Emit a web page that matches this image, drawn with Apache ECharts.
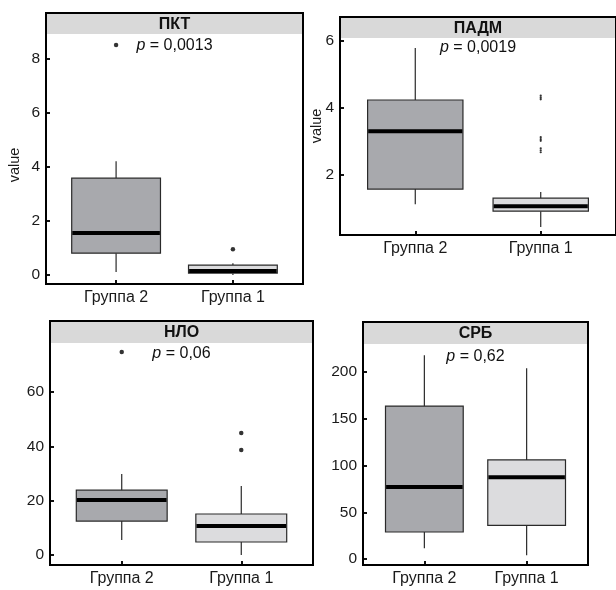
<!DOCTYPE html>
<html>
<head>
<meta charset="utf-8" />
<title>Boxplots</title>
<script src="https://cdn.jsdelivr.net/npm/echarts@6/dist/echarts.min.js"></script>
<style>
  *{ margin:0; padding:0; }
  html,body{ width:616px; height:590px; background:#fff; }
</style>
</head>
<body>
<div id="main" style="width:616px;height:590px;"></div>
<script>
// data: [min, q1, median, q3, max] per group, outliers as [groupIndex, value]
const categories = ['Группа 2', 'Группа 1'];

const pktStats = [[0.11, 0.81, 1.56, 3.59, 4.22], [0.0, 0.07, 0.15, 0.37, 0.44]];
const pktOutliers = [[0, 8.52], [1, 0.96]];
const pktTicks = [0, 2, 4, 6, 8];

const padmStats = [[1.13, 1.58, 3.31, 4.24, 5.79], [0.45, 0.92, 1.07, 1.31, 1.49]];
const padmOutliers = [[1, 4.37], [1, 4.31], [1, 4.26], [1, 3.13], [1, 3.07], [1, 3.02], [1, 2.80], [1, 2.74], [1, 2.68]];
const padmTicks = [2, 4, 6];

const nloStats = [[5.5, 12.5, 20.3, 23.9, 29.8], [0, 4.8, 10.7, 15.1, 25.4]];
const nloOutliers = [[0, 74.8], [1, 44.9], [1, 38.7]];
const nloTicks = [0, 20, 40, 60];

const crbStats = [[11.4, 28.9, 77, 163.6, 218], [4, 36, 87.5, 106, 204]];
const crbOutliers = [];
const crbTicks = [0, 50, 100, 150, 200];

const titles = ['ПКТ', 'ПАДМ', 'НЛО', 'СРБ'];
const pValues = ['0,0013', '0,0019', '0,06', '0,62'];

// panel frames in px: left, top, right, bottom, strip bottom
const panels = [
  { l: 46,  t: 13,  r: 303, b: 284, s: 34,  range: [-0.33, 8.93], ticks: pktTicks,  stats: pktStats,  out: pktOutliers,  dot: 4.5, pY: 46 },
  { l: 340, t: 17,  r: 616, b: 235, s: 38,  range: [0.21, 6.09],  ticks: padmTicks, stats: padmStats, out: padmOutliers, dot: 2.2, pY: 48 },
  { l: 50,  t: 321, r: 313, b: 565, s: 343, range: [-3.68, 78.1], ticks: nloTicks,  stats: nloStats,  out: nloOutliers,  dot: 4.5, pY: 354 },
  { l: 363, t: 322, r: 588, b: 565, s: 344, range: [-6.4, 230],   ticks: crbTicks,  stats: crbStats,  out: crbOutliers,  dot: 4.5, pY: 357 }
];

const boxFills = ['#a8a9ad', '#dcdcde'];
const FONT = '"Liberation Sans", Arial, sans-serif';

function renderBox(params, api) {
  const x = api.value(0);
  const lo = api.coord([x, api.value(1)]);
  const q1 = api.coord([x, api.value(2)]);
  const med = api.coord([x, api.value(3)]);
  const q3 = api.coord([x, api.value(4)]);
  const hi = api.coord([x, api.value(5)]);
  const w = api.size([1, 0])[0] * 0.76;
  const edge = { stroke: '#2a2a2a', lineWidth: 1.2 };
  return {
    type: 'group',
    children: [
      { type: 'line', shape: { x1: lo[0], y1: lo[1], x2: q1[0], y2: q1[1] }, style: edge },
      { type: 'line', shape: { x1: q3[0], y1: q3[1], x2: hi[0], y2: hi[1] }, style: edge },
      { type: 'rect', shape: { x: q3[0] - w / 2, y: q3[1], width: w, height: q1[1] - q3[1] },
        style: { fill: boxFills[x], stroke: '#2a2a2a', lineWidth: 1.2 } },
      { type: 'line', shape: { x1: med[0] - w / 2 + 0.6, y1: med[1], x2: med[0] + w / 2 - 0.6, y2: med[1] },
        style: { stroke: '#000', lineWidth: 4 } }
    ]
  };
}

const grid = [], xAxis = [], yAxis = [], series = [], graphic = [];

panels.forEach(function (p, i) {
  const W = p.r - p.l;
  const inset = W / 22;
  grid.push({
    left: p.l + inset, right: 616 - (p.r - inset), top: p.s, bottom: 590 - p.b,
    outerBoundsMode: 'none', containLabel: false
  });
  xAxis.push({
    type: 'category', gridIndex: i, data: categories,
    axisLine: { show: false, onZero: false },
    axisTick: { show: true, inside: true, alignWithLabel: true, length: 4, lineStyle: { color: '#111', width: 2 } },
    axisLabel: { interval: 0, margin: 6, fontSize: 16, color: '#1a1a1a', fontFamily: FONT },
    splitLine: { show: false }
  });
  yAxis.push({
    type: 'value', gridIndex: i, min: p.range[0], max: p.range[1], offset: inset,
    axisLine: { show: false, onZero: false },
    splitLine: { show: false },
    axisTick: { show: true, inside: true, length: 4, customValues: p.ticks, lineStyle: { color: '#111', width: 2 } },
    axisLabel: { customValues: p.ticks, margin: 6, fontSize: 15.5, color: '#1a1a1a', fontFamily: FONT }
  });
  series.push({
    type: 'custom', xAxisIndex: i, yAxisIndex: i,
    renderItem: renderBox,
    encode: { x: 0, y: [1, 2, 3, 4, 5] },
    data: p.stats.map(function (s, k) { return [k].concat(s); })
  });
  series.push({
    type: 'scatter', xAxisIndex: i, yAxisIndex: i,
    symbolSize: p.dot, itemStyle: { color: '#000' },
    data: p.out
  });

  const cx = (p.l + p.r) / 2;
  graphic.push({ type: 'rect', z: 0, shape: { x: p.l, y: p.t, width: W, height: p.s - p.t },
    style: { fill: '#d9d9d9' } });
  graphic.push({ type: 'rect', z: 10, shape: { x: p.l, y: p.t, width: W, height: p.b - p.t },
    style: { fill: 'none', stroke: '#000', lineWidth: 2 } });
  graphic.push({ type: 'text', z: 11, x: cx, y: (p.t + p.s) / 2 + 1,
    style: { text: titles[i], font: 'bold 16px ' + FONT, fill: '#111',
      align: 'center', verticalAlign: 'middle', textAlign: 'center', textVerticalAlign: 'middle' } });
  graphic.push({ type: 'text', z: 11, x: cx, y: p.pY,
    style: { text: '{i|p} = ' + pValues[i], font: '16px ' + FONT, fill: '#111',
      rich: { i: { fontStyle: 'italic', fontSize: 16, fontFamily: FONT } },
      align: 'center', verticalAlign: 'middle', textAlign: 'center', textVerticalAlign: 'middle' } });
});

// y axis names (only top row)
[[15, 165], [317, 126]].forEach(function (pos) {
  graphic.push({ type: 'text', x: pos[0], y: pos[1], rotation: Math.PI / 2,
    style: { text: 'value', font: '14.5px ' + FONT, fill: '#1a1a1a',
      align: 'center', verticalAlign: 'middle', textAlign: 'center', textVerticalAlign: 'middle' } });
});

const myChart = echarts.init(document.getElementById('main'));
myChart.setOption({
  animation: false,
  backgroundColor: '#fff',
  grid: grid,
  xAxis: xAxis,
  yAxis: yAxis,
  series: series,
  graphic: graphic
});
</script>
</body>
</html>
